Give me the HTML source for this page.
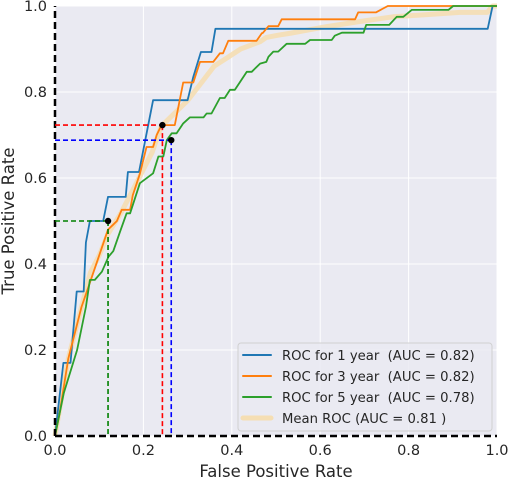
<!DOCTYPE html>
<html><head><meta charset="utf-8"><style>
body{margin:0;background:#fff;}
svg{display:block;font-family:"DejaVu Sans","Liberation Sans",sans-serif;}
text{white-space:pre;}
</style></head><body>
<svg id="chart" width="508" height="482"></svg>
<script>
const xTicks=[0,0.2,0.4,0.6,0.8,1.0];
const yTicks=[0,0.2,0.4,0.6,0.8,1.0];
const tickLabels=["0.0","0.2","0.4","0.6","0.8","1.0"];
const blueX=[0,0.019,0.035,0.049,0.065,0.07,0.079,0.109,0.12,0.16,0.165,0.19,0.222,0.30,0.313,0.33,0.354,0.363,0.979,0.99,1];
const blueY=[0,0.17,0.17,0.336,0.336,0.45,0.5,0.5,0.556,0.556,0.614,0.614,0.781,0.781,0.835,0.893,0.893,0.947,0.947,1,1];
const orangeX=[0,0.01,0.03,0.06,0.08,0.1,0.12,0.13,0.14,0.151,0.17,0.176,0.192,0.207,0.222,0.23,0.241,0.271,0.29,0.313,0.328,0.358,0.373,0.38,0.392,0.456,0.468,0.47,0.483,0.505,0.513,0.679,0.686,0.726,0.753,1];
const orangeY=[0,0.05,0.18,0.3,0.36,0.42,0.48,0.49,0.5,0.526,0.526,0.56,0.61,0.672,0.672,0.70,0.723,0.723,0.822,0.822,0.87,0.87,0.89,0.89,0.919,0.919,0.937,0.937,0.953,0.953,0.969,0.969,0.985,0.985,1,1];
const greenX=[0,0.02,0.05,0.07,0.079,0.09,0.106,0.121,0.132,0.147,0.162,0.17,0.192,0.222,0.234,0.245,0.253,0.264,0.275,0.29,0.305,0.336,0.343,0.354,0.373,0.384,0.396,0.407,0.419,0.434,0.445,0.464,0.478,0.483,0.494,0.505,0.524,0.566,0.577,0.626,0.633,0.649,0.698,0.704,0.756,0.773,0.788,0.807,0.89,0.901,1];
const greenY=[0,0.1,0.2,0.3,0.363,0.363,0.382,0.417,0.43,0.475,0.518,0.518,0.588,0.611,0.65,0.65,0.688,0.704,0.704,0.727,0.741,0.741,0.75,0.75,0.786,0.786,0.805,0.805,0.824,0.847,0.847,0.866,0.87,0.882,0.894,0.894,0.912,0.912,0.921,0.921,0.931,0.938,0.938,0.956,0.956,0.975,0.975,0.991,0.991,1,1];
const meanX=[0,0.03,0.06,0.08,0.1,0.12,0.15,0.19,0.22,0.24,0.26,0.28,0.30,0.33,0.36,0.39,0.42,0.464,0.478,0.505,0.534,0.615,0.69,0.765,0.841,0.916,0.978,0.99,1];
const meanY=[0,0.18,0.3,0.38,0.42,0.47,0.52,0.6,0.66,0.72,0.74,0.76,0.78,0.82,0.86,0.88,0.9,0.917,0.927,0.932,0.937,0.952,0.964,0.975,0.98,0.985,0.985,1,1];
const pointsX=[0.12,0.243,0.263];
const pointsY=[0.5,0.723,0.688];
const pointColors=["green","red","blue"];
const legendLabels=["ROC for 1 year  (AUC = 0.82)","ROC for 3 year  (AUC = 0.82)","ROC for 5 year  (AUC = 0.78)","Mean ROC (AUC = 0.81 )"];

const X0=55,X1=497,Y0=436,Y1=6;
const sx=v=>X0+(X1-X0)*v, sy=v=>Y0-(Y0-Y1)*v;
const NS="http://www.w3.org/2000/svg";
const svg=document.getElementById('chart');
function mk(t,a,p){const e=document.createElementNS(NS,t);for(const k in a)e.setAttribute(k,a[k]);(p||svg).appendChild(e);return e;}

const bg=mk('rect',{x:X0,y:Y1,width:X1-X0,height:Y0-Y1,fill:'#eaeaf2'});


xTicks.forEach((v,i)=>{
  const g=mk('line',{x1:sx(v),x2:sx(v),y1:Y1,y2:Y0,stroke:'#fff','stroke-width':1});
  
  
  const t=mk('text',{x:sx(v),y:Y0+19,'text-anchor':'middle','font-size':14.5,fill:'#262626'});
  t.textContent=tickLabels[i];
  
  
});
yTicks.forEach((v,i)=>{
  const g=mk('line',{x1:X0,x2:X1,y1:sy(v),y2:sy(v),stroke:'#fff','stroke-width':1});
  
  
  const t=mk('text',{x:X0-8,y:sy(v)+5,'text-anchor':'end','font-size':14.5,fill:'#262626'});
  t.textContent=tickLabels[i];
  
  
});
function path(xs,ys,c,w,op,name){
  const d=xs.map((x,i)=>(i?'L':'M')+sx(x).toFixed(1)+','+sy(ys[i]).toFixed(1)).join('');
  const p=mk('path',{d:d,fill:'none',stroke:c,'stroke-width':w,'stroke-opacity':op,'stroke-linejoin':'round'});
  
  
}
path(meanX,meanY,'#f5deb3',5,0.9,'mean-roc-line');
path(blueX,blueY,'#1f77b4',1.8,1,'roc-1-year-line');
path(orangeX,orangeY,'#ff7f0e',1.8,1,'roc-3-year-line');
path(greenX,greenY,'#2ca02c',1.8,1,'roc-5-year-line');
const ax1=mk('line',{x1:sx(0),x2:sx(0),y1:sy(0),y2:sy(1),stroke:'#000','stroke-width':2.5,'stroke-dasharray':'7,4'});


const ax2=mk('line',{x1:sx(0),x2:sx(1),y1:sy(0),y2:sy(0),stroke:'#000','stroke-width':2.5,'stroke-dasharray':'7,4'});


pointsX.forEach((px,i)=>{
  const h=mk('line',{x1:sx(0),x2:sx(px),y1:sy(pointsY[i]),y2:sy(pointsY[i]),stroke:pointColors[i],'stroke-width':1.6,'stroke-dasharray':'5,3'});
  
  
  const v=mk('line',{x1:sx(px),x2:sx(px),y1:sy(pointsY[i]),y2:sy(0),stroke:pointColors[i],'stroke-width':1.6,'stroke-dasharray':'5,3'});
  
  
  const c=mk('circle',{cx:sx(px),cy:sy(pointsY[i]),r:3.2,fill:'#000'});
  
  
});
const xl=mk('text',{x:(X0+X1)/2,y:477,'text-anchor':'middle','font-size':16.5,fill:'#262626'});
xl.textContent='False Positive Rate';


const yl=mk('text',{x:0,y:0,'text-anchor':'middle','font-size':16.5,fill:'#262626',transform:'translate(14,'+((Y0+Y1)/2)+') rotate(-90)'});
yl.textContent='True Positive Rate';


const lg=mk('g',{});


mk('rect',{x:238,y:343,width:254,height:88,rx:3,fill:'#eaeaf2','fill-opacity':0.85,stroke:'#d0d0d0'},lg);
const lc=['#1f77b4','#ff7f0e','#2ca02c','#f5deb3'],lw=[2,2,2,5];
legendLabels.forEach((s,i)=>{
  const y=355+i*21;
  const l=mk('line',{x1:243,x2:271,y1:y,y2:y,stroke:lc[i],'stroke-width':lw[i],'stroke-linecap':'round'},lg);
  
  
  const t=mk('text',{x:282,y:y+5,'font-size':13.2,fill:'#262626'},lg);
  t.textContent=s;
  
  
});
</script>
</body></html>
